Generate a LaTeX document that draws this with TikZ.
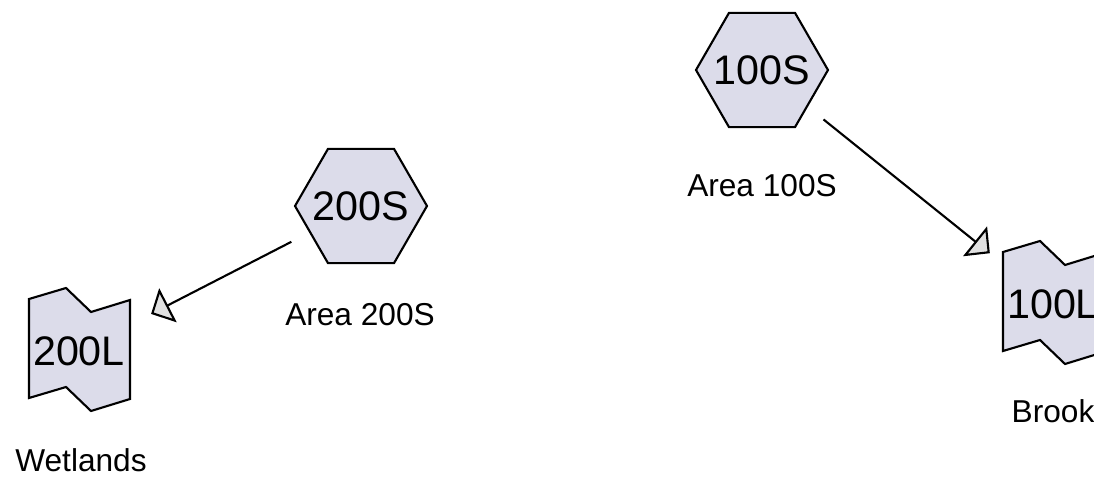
\documentclass[tikz,border=0pt]{standalone}
\usepackage{fontspec}
\setmainfont{Liberation Sans}
\usetikzlibrary{positioning, shapes.geometric, arrows.meta}

\definecolor{areafill}{RGB}{220,220,234}

\begin{document}
\begin{tikzpicture}[>={Triangle[length=0.38cm, width=0.76cm, fill=black!12]}, line width=1.2pt,
    area/.style={regular polygon, regular polygon sides=6, draw, fill=areafill,
        minimum size=2.64cm, inner sep=0pt, font=\fontsize{23.5}{28}\selectfont},
    lake/.style={circle, minimum size=2.4cm, inner sep=0pt, font=\fontsize{23.5}{28}\selectfont},
    subtitle/.style={font=\fontsize{18}{21.6}\selectfont},
    lakeshape/.pic={
        \draw[fill=areafill] (-1,1.04) -- (-0.26,1.26) -- (0.24,0.78) -- (1.02,1.02)
            -- (1.02,-0.96) -- (0.24,-1.2) -- (-0.26,-0.72) -- (-1,-0.94) -- cycle;
    }]
    \useasboundingbox (0,0) rectangle (21.88,9.58);
    \clip (0,0) rectangle (21.88,9.58);

    % Lakes
    \pic at (1.58, 2.56) {lakeshape};
    \pic at (21.06, 3.50) {lakeshape};
    \node[lake] (l200) at (1.58, 2.56) {200L};
    \node[lake] (l100) at (21.06, 3.50) {100L};
    \node[subtitle] (t200l) at (1.62, 0.38) {Wetlands};
    \node[subtitle] (t100l) at (21.06, 1.35) {Brook};

    % Areas
    \node[area] (s200) at (7.22, 5.46) {\makebox[0pt]{200S}};
    \node[area] (s100) at (15.24, 8.18) {\makebox[0pt]{100S}};
    \node[subtitle] (t200s) at (7.20, 3.29) {Area 200S};
    \node[subtitle] (t100s) at (15.24, 5.86) {Area 100S};

    % Flows
    \draw[->, shorten <=0.4cm, shorten >=0.4cm] (s200) -- (l200);
    \draw[->, shorten <=0.4cm, shorten >=0.4cm] (s100) -- (l100);
\end{tikzpicture}
\end{document}
